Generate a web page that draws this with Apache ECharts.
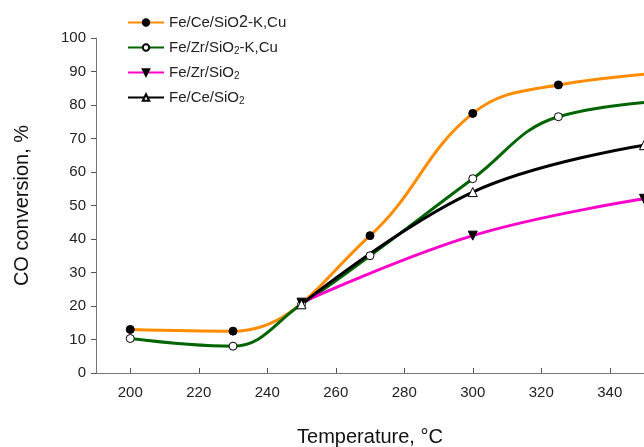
<!DOCTYPE html>
<html>
<head>
<meta charset="utf-8">
<script src="https://cdn.jsdelivr.net/npm/echarts@6/dist/echarts.min.js"></script>
<style>
  html, body { margin: 0; padding: 0; background: #fff; }
  #chart { width: 644px; height: 447px; }
</style>
</head>
<body>
<div id="chart"></div>
<script>
// values
const names = ["Fe/Ce/SiO2-K,Cu", "Fe/Zr/SiO2-K,Cu", "Fe/Zr/SiO2", "Fe/Ce/SiO2"];
const feCeKCuT = [200, 230, 270, 300, 325, 375];
const feCeKCu = [13, 12.5, 41, 77.5, 86, 91];
const feZrKCuT = [200, 230, 250, 270, 300, 325, 375];
const feZrKCu = [10.3, 8, 20.5, 35, 58, 76.5, 82];
const feZrT = [250, 300, 350];
const feZr = [21, 41, 52];
const feCeT = [250, 300, 350];
const feCe = [20.5, 54, 68];
const xTicks = [200, 220, 240, 260, 280, 300, 320, 340];

const pairs = (xs, ys) => xs.map((x, i) => [x, ys[i]]);

const myChart = echarts.init(document.getElementById("chart"));

function lineSeries(name, data, lineColor, symbol, fill, rotate) {
  return {
    name: name,
    type: "line",
    data: data,
    smooth: 0.4,
    clip: true,
    symbol: symbol,
    symbolSize: symbol === "triangle" ? 9 : 8,
    symbolRotate: rotate || 0,
    lineStyle: { color: lineColor, width: 3 },
    itemStyle: { color: fill, borderColor: "#000", borderWidth: 1 },
  };
}

myChart.setOption({
  animation: false,
  backgroundColor: "#fff",
  textStyle: { fontFamily: "Liberation Sans, Arial, sans-serif" },
  legend: {
    orient: "vertical",
    left: 122,
    top: 9,
    itemWidth: 36,
    itemHeight: 8,
    itemGap: 8,
    data: names,
    formatter: function (n) {
      if (n === names[0]) return "Fe/Ce/SiO{b|2}-K,Cu";
      return n.replace("SiO2", "SiO{s|2}");
    },
    textStyle: {
      fontSize: 15,
      lineHeight: 17,
      color: "#222",
      rich: {
        s: { fontSize: 10, lineHeight: 10, color: "#222", verticalAlign: "bottom" },
        b: { fontSize: 16, lineHeight: 14, color: "#222", verticalAlign: "bottom" },
      },
    },
  },
  grid: { left: 96, right: 0, top: 38, bottom: 74, outerBoundsMode: "none" },
  xAxis: {
    type: "value",
    min: 190,
    max: 350,
    name: "Temperature, °C",
    nameLocation: "middle",
    nameGap: 54,
    nameTextStyle: { fontSize: 20, color: "#111" },
    axisLine: { lineStyle: { color: "#777", width: 1 } },
    axisTick: { show: true, inside: true, length: 5, customValues: xTicks, lineStyle: { color: "#555" } },
    axisLabel: { customValues: xTicks, fontSize: 15, color: "#222", margin: 12 },
    splitLine: { show: false },
  },
  yAxis: {
    type: "value",
    min: 0,
    max: 100,
    interval: 10,
    name: "CO conversion, %",
    nameLocation: "middle",
    nameGap: 64,
    nameTextStyle: { fontSize: 20, color: "#111" },
    axisLine: { show: true, lineStyle: { color: "#777", width: 1 } },
    axisTick: { show: true, length: 5, lineStyle: { color: "#555" } },
    axisLabel: { fontSize: 15, color: "#222", margin: 10 },
    splitLine: { show: false },
  },
  series: [
    lineSeries(names[0], pairs(feCeKCuT, feCeKCu), "#ff8c00", "circle", "#000"),
    lineSeries(names[1], pairs(feZrKCuT, feZrKCu), "#006400", "circle", "#fff"),
    lineSeries(names[2], pairs(feZrT, feZr), "#ff00cc", "triangle", "#000", 180),
    lineSeries(names[3], pairs(feCeT, feCe), "#000", "triangle", "#fff"),
  ],
});
</script>
</body>
</html>
